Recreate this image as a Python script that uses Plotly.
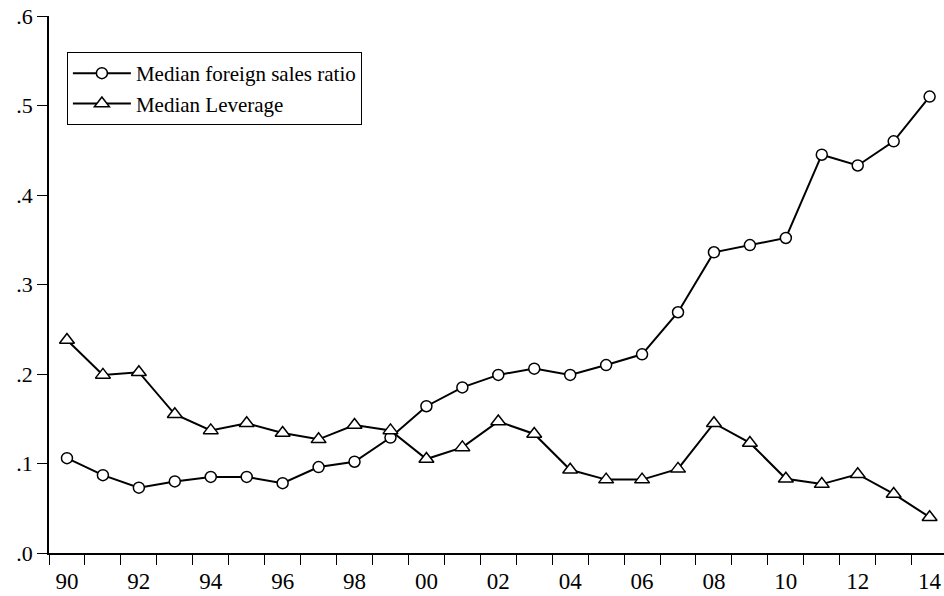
import plotly.graph_objects as go

years = list(range(1990, 2015))
foreign_sales = [0.106, 0.087, 0.073, 0.080, 0.085, 0.085, 0.078, 0.096, 0.102, 0.129,
                 0.164, 0.185, 0.199, 0.206, 0.199, 0.210, 0.222, 0.269, 0.336, 0.344,
                 0.352, 0.445, 0.433, 0.460, 0.510]
leverage = [0.238, 0.199, 0.202, 0.155, 0.137, 0.145, 0.134, 0.127, 0.143, 0.137,
            0.105, 0.118, 0.147, 0.133, 0.093, 0.082, 0.082, 0.094, 0.145, 0.123,
            0.083, 0.077, 0.088, 0.066, 0.040]
x_tick_years = list(range(1990, 2015, 2))
x_tick_text = [f"{y % 100:02d}" for y in x_tick_years]
y_tick_vals = [0, 0.1, 0.2, 0.3, 0.4, 0.5, 0.6]
y_tick_text = [".0", ".1", ".2", ".3", ".4", ".5", ".6"]

fig = go.Figure()
fig.add_trace(go.Scatter(
    x=years, y=foreign_sales, mode="lines+markers", name="Median foreign sales ratio",
    line=dict(color="black", width=2),
    marker=dict(symbol="circle", size=11, color="white", line=dict(color="black", width=1.5)),
))
fig.add_trace(go.Scatter(
    x=years, y=leverage, mode="lines+markers", name="Median Leverage",
    line=dict(color="black", width=2),
    marker=dict(symbol="triangle-up", size=13, color="white", line=dict(color="black", width=1.5)),
))

fig.update_layout(
    width=944, height=596,
    margin=dict(l=49, r=0, t=16, b=43),
    paper_bgcolor="white", plot_bgcolor="white",
    font=dict(family="Liberation Serif", color="black", size=22),
    showlegend=True,
    legend=dict(
        x=0.02, y=0.933, xanchor="left", yanchor="top",
        bordercolor="black", borderwidth=1, bgcolor="white",
        font=dict(family="Liberation Serif", size=21, color="black"),
        tracegroupgap=0, itemwidth=58,
    ),
)
fig.update_xaxes(
    range=[1989.5, 2014.4], showgrid=False, zeroline=False, automargin=False,
    showline=True, linecolor="black", linewidth=1.5,
    tickmode="array", tickvals=x_tick_years, ticktext=x_tick_text,
    ticks="", ticklen=0, ticklabelstandoff=7,
    minor=dict(tick0=1989.5, dtick=1, ticks="outside", ticklen=10, tickcolor="black", tickwidth=1.2, showgrid=False),
    tickfont=dict(family="Liberation Serif", size=23, color="black"),
)
fig.update_yaxes(
    range=[0, 0.6], showgrid=False, zeroline=False, automargin=False,
    showline=True, linecolor="black", linewidth=1.5,
    tickmode="array", tickvals=y_tick_vals, ticktext=y_tick_text,
    ticks="outside", ticklen=10, tickcolor="black", tickwidth=1.2,
    tickfont=dict(family="Liberation Serif", size=22, color="black"),
)

fig.write_html("out.html", config={"displayModeBar": False},
               post_script="document.body.style.margin='0';document.body.style.overflow='hidden';")
